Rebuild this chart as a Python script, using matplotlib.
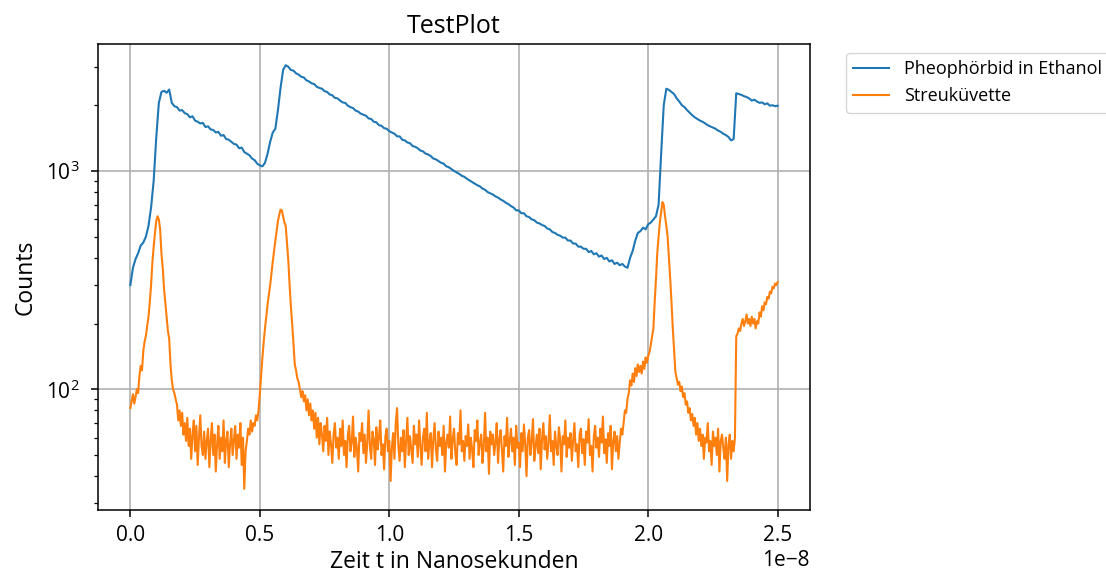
import numpy as np
import matplotlib
matplotlib.use("Agg")
import matplotlib.pyplot as plt

plt.rcParams['font.family'] = ['Open Sans', 'DejaVu Sans']

# Pheophörbid in Ethanol, counts every 0.01e-8 s from 0 to 2.5e-8 s
pheo = [300, 360, 395, 420, 455, 470, 500, 560, 680, 900,
        1420, 2050, 2300, 2330, 2280, 2360, 2050, 1980, 1960, 1890,
        1900, 1840, 1820, 1760, 1780, 1700, 1680, 1650, 1660, 1590,
        1600, 1550, 1540, 1500, 1510, 1450, 1460, 1400, 1390, 1360,
        1330, 1320, 1270, 1280, 1220, 1200, 1180, 1140, 1120, 1080,
        1060, 1050, 1090, 1200, 1360, 1500, 1560, 1900, 2400, 2900,
        3050, 3000, 2900, 2880, 2800, 2760, 2700, 2680, 2600, 2570,
        2520, 2500, 2430, 2400, 2380, 2320, 2300, 2240, 2220, 2160,
        2150, 2100, 2060, 2050, 1990, 1960, 1940, 1890, 1870, 1830,
        1810, 1790, 1740, 1730, 1680, 1670, 1620, 1610, 1570, 1560,
        1520, 1500, 1480, 1440, 1440, 1390, 1380, 1350, 1340, 1300,
        1290, 1270, 1240, 1230, 1200, 1190, 1170, 1140, 1130, 1110,
        1090, 1080, 1050, 1040, 1020, 1000, 985, 970, 950, 940,
        920, 905, 890, 875, 860, 850, 830, 820, 800, 790,
        780, 765, 755, 740, 730, 715, 705, 690, 680, 660,
        660, 640, 640, 620, 615, 600, 595, 580, 575, 565,
        560, 545, 540, 525, 520, 510, 505, 495, 495, 480,
        480, 465, 465, 450, 450, 440, 440, 425, 430, 415,
        420, 405, 410, 395, 400, 385, 390, 375, 380, 370,
        375, 365, 360, 400, 430, 480, 520, 530, 550, 540,
        570, 580, 600, 620, 700, 1200, 2000, 2380, 2350, 2300,
        2250, 2150, 2080, 2000, 1960, 1900, 1850, 1800, 1760, 1730,
        1700, 1680, 1650, 1620, 1600, 1580, 1560, 1530, 1510, 1480,
        1460, 1430, 1380, 1400, 2270, 2250, 2230, 2200, 2180, 2150,
        2100, 2120, 2080, 2050, 2060, 2020, 2040, 1990, 2000, 1980,
        1990]

# Streuküvette, counts every 0.005e-8 s from 0 to 2.5e-8 s
streu = [82, 88, 95, 86, 92, 100, 96, 115, 128, 122, 150, 165, 176, 195, 215, 250, 300, 380, 450, 520,
         590, 620, 600, 540, 420, 360, 290, 250, 215, 185, 170, 130, 110, 100, 96, 90, 85, 72, 80, 68,
         78, 62, 70, 58, 74, 55, 66, 48, 62, 72, 52, 68, 45, 60, 76, 55, 50, 64, 48, 58,
         66, 44, 58, 70, 50, 62, 42, 56, 68, 48, 60, 52, 72, 46, 58, 64, 44, 56, 66, 50,
         58, 68, 48, 62, 54, 70, 45, 60, 35, 52, 58, 66, 62, 72, 64, 70, 68, 76, 72, 80,
         95, 115, 140, 165, 190, 215, 245, 270, 300, 340, 385, 430, 480, 530, 590, 630, 665, 660, 620, 580,
         560, 470, 390, 300, 240, 200, 160, 130, 122, 112, 108, 100, 92, 98, 88, 94, 80, 90, 76, 86,
         72, 80, 66, 78, 60, 74, 56, 70, 62, 52, 68, 58, 74, 50, 64, 56, 46, 62, 70, 54,
         60, 48, 66, 55, 72, 50, 58, 44, 62, 68, 52, 57, 75, 49, 60, 54, 42, 63, 58, 70,
         51, 62, 46, 57, 80, 55, 48, 64, 59, 45, 67, 53, 60, 72, 50, 56, 43, 61, 66, 52,
         58, 38, 54, 63, 48, 70, 82, 55, 47, 60, 52, 65, 44, 58, 74, 50, 61, 53, 46, 68,
         56, 62, 49, 72, 55, 45, 60, 66, 52, 78, 48, 57, 63, 44, 59, 70, 53, 47, 64, 55,
         60, 50, 68, 42, 57, 62, 54, 75, 48, 59, 66, 51, 45, 63, 56, 80, 52, 58, 47, 61,
         55, 69, 48, 60, 53, 44, 65, 58, 72, 50, 57, 62, 46, 55, 78, 52, 60, 41, 64, 56,
         62, 50, 57, 70, 46, 59, 65, 53, 42, 61, 55, 74, 49, 58, 66, 52, 60, 45, 68, 54,
         57, 44, 63, 52, 69, 56, 40, 60, 65, 50, 58, 73, 47, 55, 62, 51, 66, 43, 59, 70,
         53, 61, 48, 57, 76, 52, 58, 45, 64, 55, 50, 67, 59, 42, 61, 56, 72, 49, 60, 54,
         63, 47, 58, 70, 52, 56, 44, 62, 66, 51, 59, 45, 64, 57, 73, 50, 55, 42, 61, 68,
         54, 60, 49, 66, 57, 75, 51, 59, 46, 63, 55, 68, 43, 58, 64, 52, 61, 48, 57, 66,
         62, 70, 80, 78, 90, 96, 110, 104, 118, 108, 125, 115, 130, 120, 128, 118, 134, 124, 140, 132,
         142, 148, 160, 175, 190, 250, 320, 420, 500, 580, 650, 720, 700, 620, 560, 500, 400, 320, 250, 190,
         150, 120, 112, 105, 108, 98, 103, 92, 96, 85, 88, 78, 82, 72, 77, 68, 74, 62, 70, 58,
         66, 55, 62, 48, 60, 57, 70, 52, 58, 45, 64, 55, 60, 50, 66, 42, 58, 62, 54, 48,
         60, 38, 56, 62, 48, 58, 52, 60, 175, 180, 190, 185, 200, 210, 195, 205, 220, 200, 210, 195,
         215, 200, 210, 190, 205, 200, 225, 215, 240, 230, 250, 245, 265, 260, 280, 275, 295, 290, 305, 300,
         310]

t_pheo = np.linspace(0, 2.5e-8, len(pheo))
t_streu = np.linspace(0, 2.5e-8, len(streu))

fig = plt.figure(figsize=(11.06, 5.74), dpi=100)
ax = fig.add_axes([0.0886, 0.1115, 0.6438, 0.8118])

ax.plot(t_pheo, pheo, color='#1f77b4', lw=1.5, label='Pheophörbid in Ethanol')
ax.plot(t_streu, streu, color='#ff7f0e', lw=1.5, label='Streuküvette')
ax.set_yscale('log')
ax.grid(True, which='major', color='#b0b0b0', lw=1.2)
for s in ax.spines.values():
    s.set_linewidth(1.1)

ax.set_title('TestPlot', fontsize=18, pad=8)
ax.set_xlabel('Zeit t in Nanosekunden', fontsize=16.5, labelpad=3)
ax.set_ylabel('Counts', fontsize=16.5, labelpad=6)
ax.tick_params(which='major', labelsize=15, length=5, width=1.1)
ax.tick_params(axis='x', which='major', pad=6)
ax.tick_params(axis='y', which='major', pad=8)
ax.tick_params(which='minor', length=3, width=0.9)
ax.xaxis.get_offset_text().set_fontsize(15)
ax.legend(bbox_to_anchor=(1.038, 1), loc='upper left', fontsize=13)

fig.savefig('out.png', dpi=100)
